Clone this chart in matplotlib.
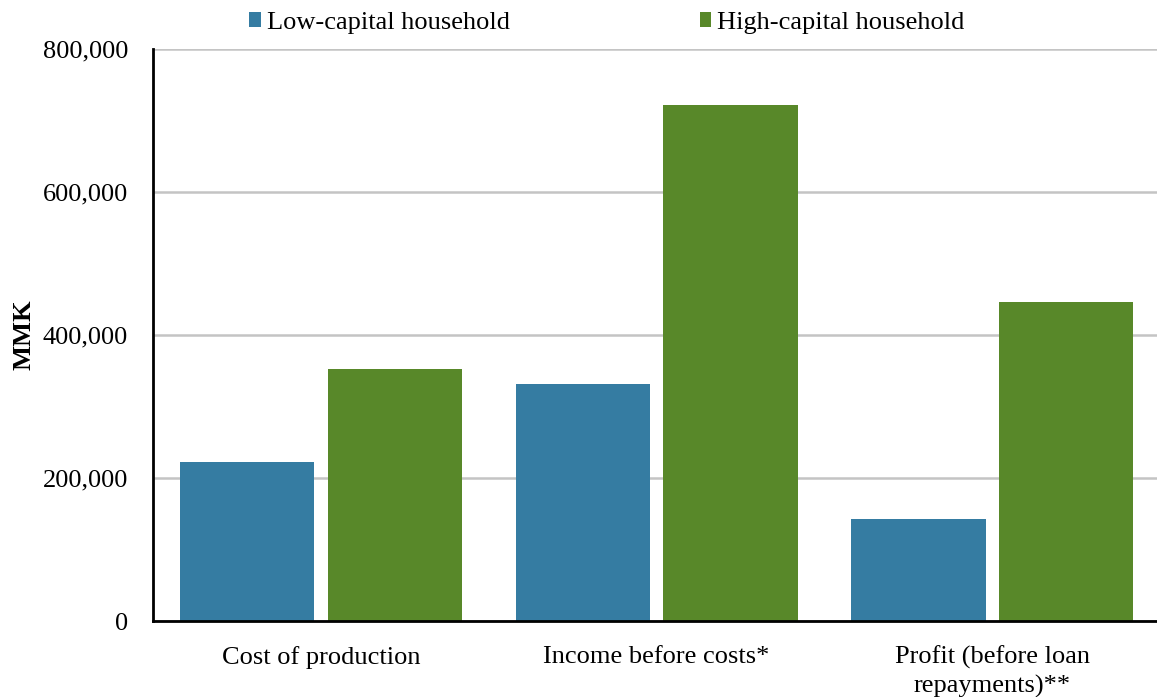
import matplotlib.pyplot as plt
import numpy as np
from matplotlib.ticker import FuncFormatter

categories = ['Cost of production', 'Income before costs*', 'Profit (before loan\nrepayments)**']
low_capital = [222000, 331000, 142000]
high_capital = [352000, 721000, 446000]
series_names = ['Low-capital household', 'High-capital household']

plt.rcParams['font.family'] = ['Liberation Serif', 'DejaVu Serif']

fig = plt.figure(figsize=(11.57, 6.97), dpi=100)
ax = fig.add_axes([0.1322, 0.109, 0.8678, 0.8207])

x = np.arange(len(categories))
w = 0.40
ax.bar(x - 0.22, low_capital, w, color='#357CA2', label=series_names[0], zorder=3)
ax.bar(x + 0.22, high_capital, w, color='#588829', label=series_names[1], zorder=3)

ax.set_xlim(-0.5, 2.49)
ax.set_ylim(0, 800000)
ax.set_yticks([0, 200000, 400000, 600000, 800000])
ax.yaxis.set_major_formatter(FuncFormatter(lambda v, p: f'{int(v):,}'))
ax.set_xticks(x)
ax.set_xticklabels(categories, fontsize=19, linespacing=1.3)
ax.tick_params(axis='y', labelsize=19, length=0, pad=18)
ax.tick_params(axis='x', length=0, pad=18)
ax.grid(axis='y', color='#C4C4C4', linewidth=1.8, zorder=0)

for s in ['top', 'right']:
    ax.spines[s].set_visible(False)
ax.spines['left'].set_linewidth(2)
ax.spines['bottom'].set_linewidth(2)
ax.spines['left'].set_zorder(4)
ax.spines['bottom'].set_zorder(4)

ax.set_ylabel('MMK', fontsize=19, fontweight='bold', labelpad=5)

ax.legend(loc='lower center', bbox_to_anchor=(0.452, 0.985), ncol=2, frameon=False,
          fontsize=19, handlelength=0.45, handleheight=0.45, handletextpad=0.2,
          columnspacing=7.2)

fig.savefig('out.png', dpi=100)
